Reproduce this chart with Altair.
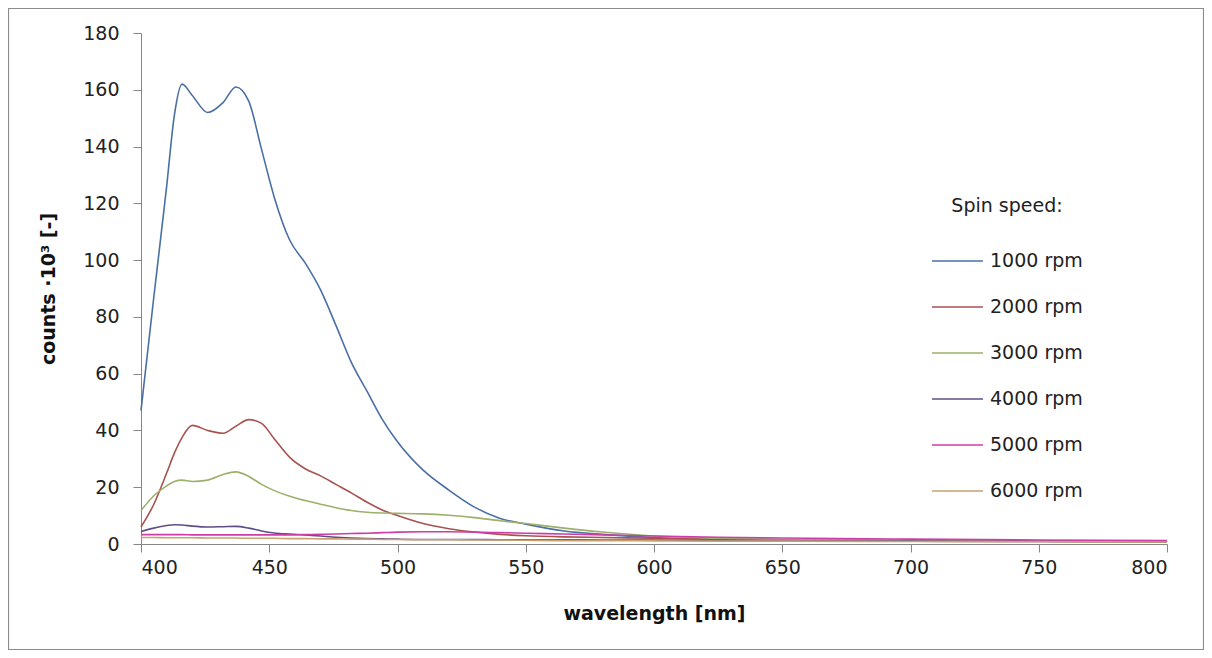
import altair as alt
import pandas as pd

# wavelength grid (nm)
wavelength = [400, 405, 410, 413, 416, 420, 426, 432, 437, 442, 447, 452, 458, 464, 470,
              476, 482, 488, 494, 500, 510, 520, 530, 540, 550, 565, 580, 600, 625, 650,
              700, 750, 800]

series_names = ["1000 rpm", "2000 rpm", "3000 rpm", "4000 rpm", "5000 rpm", "6000 rpm"]
series_colors = ["#4A6FA5", "#A8524F", "#9DAF6A", "#5E4E85", "#CC3DAA", "#C9A070"]

rpm1000 = [47, 87, 126, 151, 162, 158, 152, 155.5, 161, 156, 139, 122, 107, 99, 89.5,
           77, 64, 54, 44, 36, 26, 19, 13, 9, 7, 4.6, 3.4, 2.3, 1.8, 1.5, 1.2, 1.0, 0.8]
rpm2000 = [6, 14, 25, 32, 37.5, 41.8, 40, 39, 41.5, 43.8, 42.5, 37, 30.5, 26.5, 24,
           21, 18, 14.8, 12, 10, 7.2, 5.4, 4.2, 3.4, 2.9, 2.5, 2.3, 2.0, 1.7, 1.5, 1.2, 1.0, 0.9]
rpm3000 = [11.8, 17, 20.5, 22, 22.5, 22, 22.5, 24.5, 25.4, 23.8, 21, 18.8, 16.8, 15.3, 14,
           12.8, 11.8, 11.2, 10.9, 10.8, 10.6, 10.1, 9.3, 8.2, 7.2, 5.6, 4.2, 2.8, 2.0, 1.6, 1.2, 1.0, 0.8]
rpm4000 = [4.4, 5.6, 6.5, 6.8, 6.7, 6.3, 6.0, 6.1, 6.2, 5.6, 4.6, 3.9, 3.5, 3.2, 2.8,
           2.4, 2.1, 1.9, 1.8, 1.7, 1.6, 1.6, 1.6, 1.5, 1.5, 1.5, 1.4, 1.4, 1.3, 1.2, 1.0, 0.9, 0.8]
rpm5000 = [3.3, 3.3, 3.3, 3.3, 3.3, 3.2, 3.2, 3.2, 3.2, 3.2, 3.2, 3.2, 3.2, 3.3, 3.4,
           3.5, 3.7, 3.8, 4.0, 4.2, 4.3, 4.3, 4.2, 4.0, 3.8, 3.5, 3.2, 2.8, 2.4, 2.1, 1.7, 1.4, 1.2]
rpm6000 = [2.3, 2.3, 2.2, 2.2, 2.2, 2.2, 2.1, 2.1, 2.1, 2.0, 2.0, 2.0, 1.9, 1.9, 1.8,
           1.8, 1.7, 1.7, 1.6, 1.6, 1.5, 1.5, 1.4, 1.4, 1.3, 1.2, 1.2, 1.1, 1.0, 1.0, 0.9, 0.8, 0.7]

x_ticks = [400, 450, 500, 550, 600, 650, 700, 750, 800]
y_ticks = [0, 20, 40, 60, 80, 100, 120, 140, 160, 180]

all_series = [rpm1000, rpm2000, rpm3000, rpm4000, rpm5000, rpm6000]
rows = []
for name, vals in zip(series_names, all_series):
    for w, v in zip(wavelength, vals):
        rows.append({"wavelength": w, "counts": v, "speed": name})
df = pd.DataFrame(rows)

FONT = "DejaVu Sans"
W, H = 1026, 511

lines = alt.Chart(df).mark_line(interpolate="monotone", strokeWidth=1.6).encode(
    x=alt.X("wavelength:Q",
            scale=alt.Scale(domain=[400, 800], nice=False),
            axis=alt.Axis(values=x_ticks, title="wavelength [nm]", grid=False,
                          tickSize=8, labelPadding=6, titlePadding=27,
                          labelFontSize=19, titleFontSize=19, titleFontWeight="bold")),
    y=alt.Y("counts:Q",
            scale=alt.Scale(domain=[0, 180], nice=False),
            axis=alt.Axis(values=y_ticks, title="counts ·10³ [-]", grid=False,
                          tickSize=8, labelPadding=14, titlePadding=24,
                          labelFontSize=19, titleFontSize=19, titleFontWeight="bold")),
    color=alt.Color("speed:N",
                    scale=alt.Scale(domain=series_names, range=series_colors),
                    sort=series_names,
                    legend=alt.Legend(title="Spin speed:", orient="none",
                                      legendX=790, legendY=164,
                                      symbolType="stroke", symbolSize=2600,
                                      symbolStrokeWidth=1.6, clipHeight=20,
                                      rowPadding=26, labelOffset=6,
                                      titleAnchor="middle", titlePadding=35,
                                      titleFontWeight="normal", titleFontSize=19,
                                      labelFontSize=19)),
)

frame = alt.Chart(pd.DataFrame({"a": [0]})).mark_rect(
    fill=None, stroke="#8c8c8c", strokeWidth=1.2
).encode(
    x=alt.value(-132.5), x2=alt.value(W + 36.5),
    y=alt.value(-24.5), y2=alt.value(H + 105.5),
)

chart = alt.layer(lines, frame).properties(
    width=W, height=H,
    autosize=alt.AutoSizeParams(type="none"),
    padding={"left": 133, "top": 25, "right": 37, "bottom": 106},
).configure_view(stroke=None).configure_axis(
    domainColor="#868686", tickColor="#868686", labelColor="#222222",
    titleColor="#111111", labelFont=FONT, titleFont=FONT,
).configure_legend(
    labelFont=FONT, titleFont=FONT, labelColor="#222222", titleColor="#222222",
)

chart.save("out.html", embed_options={"renderer": "svg", "actions": False})
